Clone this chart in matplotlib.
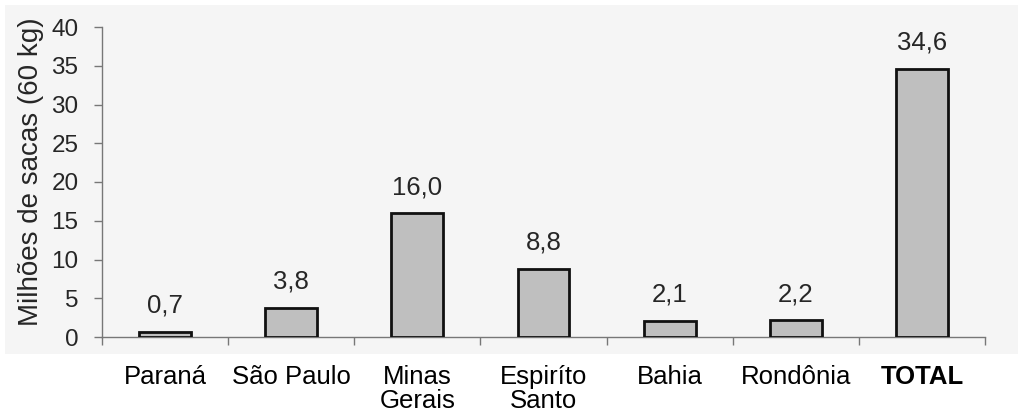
import matplotlib
matplotlib.use("Agg")
import matplotlib.pyplot as plt
from matplotlib.patches import Rectangle

# Coffee production by state (millions of 60 kg bags)
estados = ["Paraná", "São Paulo", "Minas\nGerais", "Espiríto\nSanto", "Bahia", "Rondônia", "TOTAL"]
producao = [0.7, 3.8, 16.0, 8.8, 2.1, 2.2, 34.6]
rotulos = ["0,7", "3,8", "16,0", "8,8", "2,1", "2,2", "34,6"]
y_ticks = [0, 5, 10, 15, 20, 25, 30, 35, 40]

W, H = 1023, 418
fig = plt.figure(figsize=(W / 100, H / 100), dpi=100)
fig.patch.set_facecolor("white")

# light paper tone behind the plotting area
fig.patches.append(Rectangle((5 / W, 1 - 354 / H), (1018 - 5) / W, (354 - 5) / H,
                             transform=fig.transFigure, facecolor="#f5f5f5",
                             edgecolor="none", zorder=-10))

ax = fig.add_axes([102 / W, 1 - 337 / H, (985 - 102) / W, (337 - 27) / H])
ax.set_facecolor("none")
ax.set_zorder(5)

font = "Liberation Sans"
axis_grey = "#777777"
text_grey = "#262626"

x = list(range(len(estados)))
ax.bar(x, producao, width=0.41, color="#bfbfbf", edgecolor="#111111", linewidth=2.0, zorder=3)

for xi, v, lab in zip(x, producao, rotulos):
    ax.annotate(lab, (xi, v), xytext=(0, 10), textcoords="offset points",
                ha="center", va="bottom", fontsize=18.5, color=text_grey, family=font)

ax.set_xlim(-0.5, len(estados) - 0.5)
ax.set_ylim(0, 40)
ax.set_yticks(y_ticks)
ax.set_yticklabels([str(t) for t in y_ticks], fontsize=17.5, color=text_grey, family=font)

# boundaries as major ticks, category names on minor ticks at bar centres
ax.set_xticks([i - 0.5 for i in range(len(estados) + 1)])
ax.set_xticklabels([])
ax.set_xticks(x, minor=True)
ax.set_xticklabels(estados, minor=True, fontsize=18.5, color="black", family=font,
                   linespacing=1.0)
for lbl in ax.get_xticklabels(minor=True):
    if lbl.get_text() == "TOTAL":
        lbl.set_fontweight("bold")

ax.tick_params(axis="x", which="major", direction="out", length=6, width=1, color=axis_grey)
ax.tick_params(axis="x", which="minor", length=0, pad=20)
ax.tick_params(axis="y", direction="out", length=6, width=1, color=axis_grey, pad=11)

for side in ("top", "right"):
    ax.spines[side].set_visible(False)
for side in ("left", "bottom"):
    ax.spines[side].set_color(axis_grey)
    ax.spines[side].set_linewidth(1)

ax.set_ylabel("Milhões de sacas (60 kg)", fontsize=20, color=text_grey, family=font)
ax.yaxis.set_label_coords(-0.066, 0.532)

fig.savefig("out.png", dpi=100)
